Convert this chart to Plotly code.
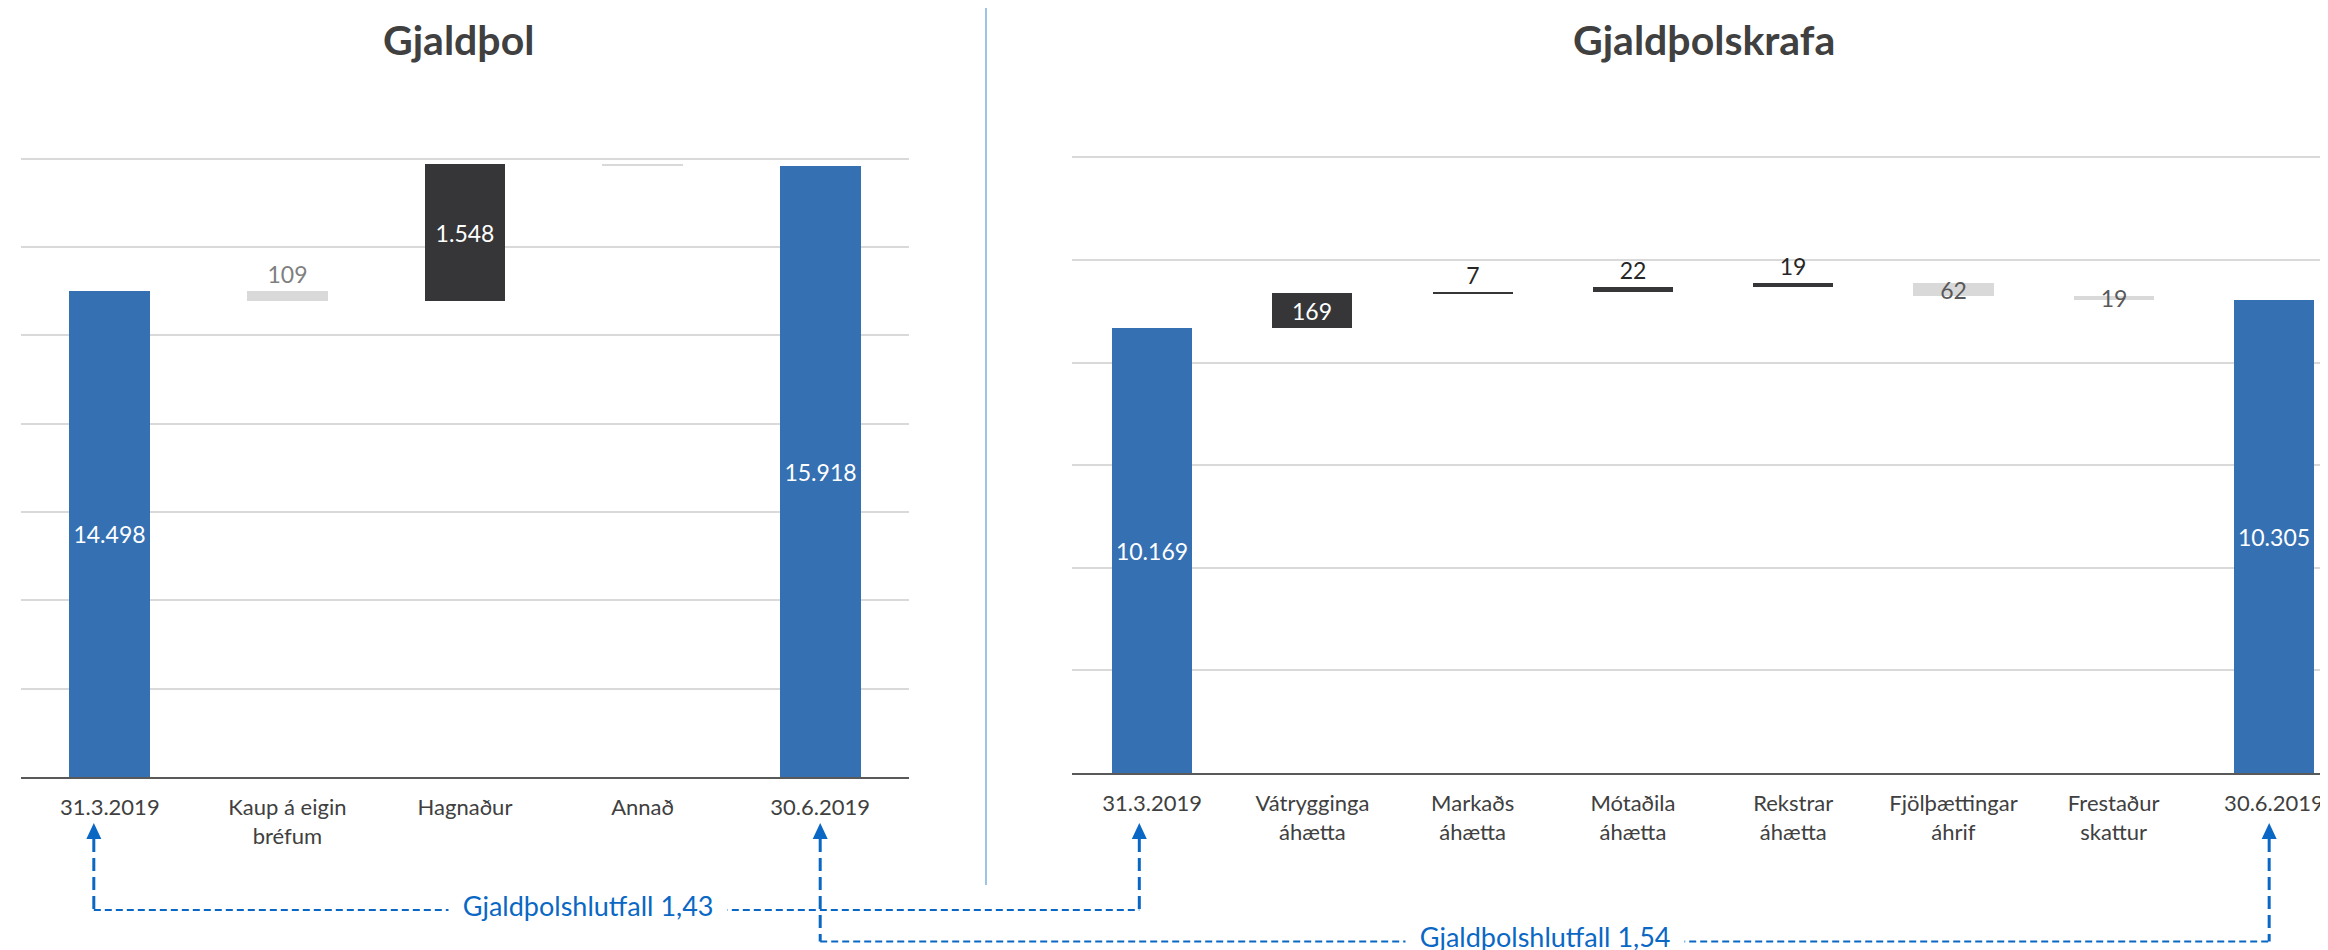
import plotly.graph_objects as go

# --- data -------------------------------------------------------------
left_title = "Gjaldþol"
left_cats = ["31.3.2019", "Kaup á eigin<br>bréfum", "Hagnaður", "Annað", "30.6.2019"]
left_vals = [14498, -109, 1548, -19, 15918]
left_measure = ["absolute", "relative", "relative", "relative", "total"]

right_title = "Gjaldþolskrafa"
right_cats = ["31.3.2019", "Vátrygginga<br>áhætta", "Markaðs<br>áhætta", "Mótaðila<br>áhætta",
              "Rekstrar<br>áhætta", "Fjölþættingar<br>áhrif", "Frestaður<br>skattur", "30.6.2019"]
right_vals = [10169, 169, 7, 22, 19, -62, -19, 10305]
right_measure = ["absolute", "relative", "relative", "relative", "relative", "relative", "relative", "total"]

ratio_labels = ["Gjaldþolshlutfall 1,43", "Gjaldþolshlutfall 1,54"]

# --- styling ----------------------------------------------------------
FONT = "Lato"
BLUE = "#3570B3"
DARK = "#363638"
GREY = "#D9D9D9"
TXT = "#404040"
LINK = "#0A68C4"

# where each data label sits (Annað has none)
left_textpos = ["inside", "outside", "inside", "none", "inside"]
right_textpos = ["inside", "inside", "outside", "outside", "outside", "inside", "inside", "inside"]

W, H = 2328, 950

# plot areas (pixel positions)
lx_dom = [13 / W, 901 / W]
lx_rng = [-0.5, 4.5]
rx_dom = [1064 / W, 1.0]
rx_rng = [-0.5, 7.387]
ly_dom = [1 - 769 / H, 1 - 146.3 / H]
ly_rng = [9000, 16050]
ry_dom = [1 - 765 / H, 1 - 143.2 / H]
ry_rng = [8000, 11030]


def floating(vals, measure, floor):
    """turn waterfall steps into base/height pairs; totals start at the axis floor"""
    base, height, kind = [], [], []
    run = 0
    for v, m in zip(vals, measure):
        if m in ("absolute", "total"):
            base.append(floor)
            height.append(v - floor)
            kind.append("total")
            run = v
        else:
            lo = min(run, run + v)
            base.append(lo)
            height.append(abs(v))
            kind.append("up" if v > 0 else "down")
            run += v
    return base, height, kind


def fmt(v):
    return f"{abs(v):,}".replace(",", ".")


def bar_trace(cats, vals, measure, tpos, floor, xa, ya, width):
    base, height, kind = floating(vals, measure, floor)
    colors, tcol = [], []
    for k, p in zip(kind, tpos):
        if k == "total":
            colors.append(BLUE); tcol.append("white")
        elif k == "up":
            colors.append(DARK); tcol.append("white" if p == "inside" else "#262626")
        else:
            colors.append(GREY); tcol.append("#595959" if p == "inside" else "#7F7F7F")
    return go.Bar(x=cats, y=height, base=base, width=width,
                  marker=dict(color=colors, line=dict(width=0)),
                  text=[fmt(v) for v in vals], textposition=tpos, textangle=0,
                  insidetextanchor="middle",
                  textfont=dict(family=FONT, size=23, color=tcol),
                  constraintext="none", cliponaxis=False,
                  xaxis=xa, yaxis=ya, hoverinfo="skip", showlegend=False)


fig = go.Figure()
fig.add_trace(bar_trace(left_cats, left_vals, left_measure, left_textpos, ly_rng[0], "x", "y", 0.456))
fig.add_trace(bar_trace(right_cats, right_vals, right_measure, right_textpos, ry_rng[0], "x2", "y2", 0.5))

xax = dict(showgrid=False, showline=True, linecolor="#595959", linewidth=2,
           ticks="", ticklabelstandoff=10, zeroline=False,
           tickfont=dict(family=FONT, size=22, color=TXT), fixedrange=True)
yax = dict(showgrid=True, gridcolor=GREY, gridwidth=1.5, showticklabels=False,
           zeroline=False, showline=False, ticks="", fixedrange=True)

fig.update_layout(
    width=W, height=H,
    margin=dict(l=0, r=0, t=0, b=0),
    paper_bgcolor="white", plot_bgcolor="white",
    xaxis=dict(xax, domain=lx_dom, range=lx_rng, anchor="y"),
    yaxis=dict(yax, domain=ly_dom, range=ly_rng, dtick=1000, anchor="x"),
    xaxis2=dict(xax, domain=rx_dom, range=rx_rng, anchor="y2"),
    yaxis2=dict(yax, domain=ry_dom, range=ry_rng, dtick=500, anchor="x2"),
    bargap=0,
)

# titles
for txt, xc in [(left_title, 450 / W), (right_title, 1696 / W)]:
    fig.add_annotation(text=f"<b>{txt}</b>", x=xc, y=1 - 31 / H, xref="paper", yref="paper",
                       xanchor="center", yanchor="middle", showarrow=False,
                       font=dict(family=FONT, size=41, color=TXT))

# divider between the two charts
fig.add_shape(type="line", xref="paper", yref="paper", x0=978 / W, x1=978 / W,
              y0=1 - 877 / H, y1=1, line=dict(color="#9DC3E6", width=2))


def xpaper(dom, rng, idx):
    return dom[0] + (idx - rng[0]) / (rng[1] - rng[0]) * (dom[1] - dom[0])


tip_y = 1 - 815 / H
head_y = 1 - 831 / H
half = 7.5 / W
links = [
    (xpaper(lx_dom, lx_rng, 0 - 0.09), xpaper(rx_dom, rx_rng, 0 - 0.08), 902, 0.473),
    (xpaper(lx_dom, lx_rng, 4), xpaper(rx_dom, rx_rng, 7 - 0.03), 933.5, 0.5),
]
for (xa, xb, ypx, frac), lab in zip(links, ratio_labels):
    yl = 1 - ypx / H
    for xv in (xa, xb):
        fig.add_shape(type="line", xref="paper", yref="paper", x0=xv, x1=xv, y0=head_y, y1=yl,
                      line=dict(color=LINK, width=3, dash="13px,6px"))
        fig.add_shape(type="path", xref="paper", yref="paper",
                      path=f"M {xv - half},{head_y} L {xv + half},{head_y} L {xv},{tip_y} Z",
                      fillcolor=LINK, line=dict(width=0))
    fig.add_shape(type="line", xref="paper", yref="paper", x0=xa, x1=xb, y0=yl, y1=yl,
                  line=dict(color=LINK, width=2, dash="7px,4px"))
    fig.add_annotation(text=f"\u00a0\u00a0{lab}\u00a0\u00a0", x=xa + frac * (xb - xa),
                       y=1 - (ypx - 5) / H, xref="paper", yref="paper",
                       xanchor="center", yanchor="middle", showarrow=False,
                       bgcolor="white", borderpad=0,
                       font=dict(family=FONT, size=27, color=LINK))

fig.write_html("out.html")
